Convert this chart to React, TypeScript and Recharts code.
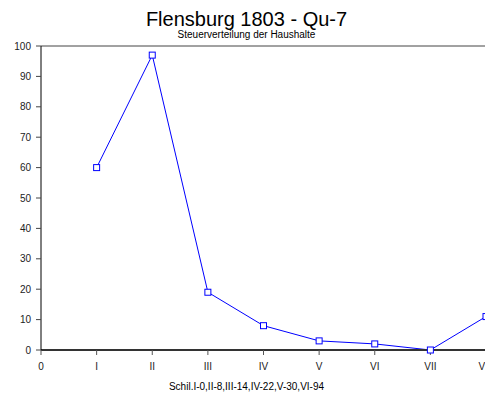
import React from "react";
import { LineChart, Line, XAxis, YAxis, ReferenceLine } from "recharts";

const categories = ["0", "I", "II", "III", "IV", "V", "VI", "VII", "VIII"];
const positions = [1, 2, 3, 4, 5, 6, 7, 8];
const shares = [60, 97, 19, 8, 3, 2, 0, 11];
const yTicks = [0, 10, 20, 30, 40, 50, 60, 70, 80, 90, 100];

const data = positions.map((x, i) => ({ x, value: shares[i] }));

const font = "'Liberation Sans', Arial, sans-serif";

function SquareDot(props: any) {
  const { cx, cy, index } = props;
  if (cx == null || cy == null) return null;
  return (
    <rect
      key={`dot-${index}`}
      x={cx - 3}
      y={cy - 3}
      width={6}
      height={6}
      fill="#fff"
      stroke="#0000ff"
      strokeWidth={1}
    />
  );
}

export default function App() {
  return (
    <div
      style={{
        position: "absolute",
        left: 0,
        top: 0,
        width: 485,
        height: 397,
        overflow: "hidden",
        background: "#fff",
        fontFamily: font,
      }}
    >
      <div style={{ position: "absolute", left: 0, width: 493, top: 9, textAlign: "center", fontSize: 20, lineHeight: "20px", color: "#000" }}>
        Flensburg 1803 - Qu-7
      </div>
      <div style={{ position: "absolute", left: 0, width: 493, top: 30, textAlign: "center", fontSize: 10, lineHeight: "10px", color: "#000" }}>
        Steuerverteilung der Haushalte
      </div>
      <div style={{ position: "absolute", left: 0, width: 493, top: 382, textAlign: "center", fontSize: 10, lineHeight: "10px", color: "#000" }}>
        Schil.I-0,II-8,III-14,IV-22,V-30,VI-94
      </div>
      <LineChart width={500} height={397} data={data} margin={{ top: 46, right: 14, bottom: 17, left: 0 }}>
        <ReferenceLine y={100} stroke="#444" strokeWidth={1} />
        <XAxis
          dataKey="x"
          type="number"
          domain={[0, 8]}
          ticks={[0, 1, 2, 3, 4, 5, 6, 7, 8]}
          tickFormatter={(v: number) => categories[v]}
          height={30}
          tickSize={5}
          tickMargin={8}
          axisLine={{ stroke: "#333", strokeWidth: 2 }}
          tickLine={{ stroke: "#555" }}
          tick={{ fontSize: 10, fill: "#222", fontFamily: font }}
          interval={0}
          allowDataOverflow
        />
        <YAxis
          type="number"
          domain={[0, 100]}
          ticks={yTicks}
          width={41}
          tickSize={5}
          tickMargin={5}
          axisLine={{ stroke: "#000" }}
          tickLine={{ stroke: "#444" }}
          tick={{ fontSize: 10, fill: "#222", fontFamily: font }}
          interval={0}
        />
        <Line
          type="linear"
          dataKey="value"
          stroke="#0000ff"
          strokeWidth={1}
          dot={SquareDot}
          activeDot={false}
          isAnimationActive={false}
        />
      </LineChart>
    </div>
  );
}
